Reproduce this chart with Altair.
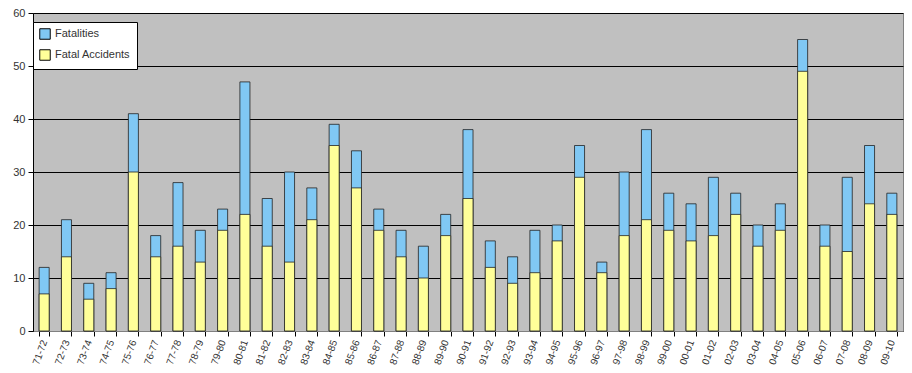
import altair as alt
import pandas as pd

seasons = ["71-72","72-73","73-74","74-75","75-76","76-77","77-78","78-79","79-80","80-81",
           "81-82","82-83","83-84","84-85","85-86","86-87","87-88","88-89","89-90","90-91",
           "91-92","92-93","93-94","94-95","95-96","96-97","97-98","98-99","99-00","00-01",
           "01-02","02-03","03-04","04-05","05-06","06-07","07-08","08-09","09-10"]
fatalities = [12,21,9,11,41,18,28,19,23,47,25,30,27,39,34,23,19,16,22,38,
              17,14,19,20,35,13,30,38,26,24,29,26,20,24,55,20,29,35,26]
fatal_accidents = [7,14,6,8,30,14,16,13,19,22,16,13,21,35,27,19,14,10,18,25,
                   12,9,11,17,29,11,18,21,19,17,18,22,16,19,49,16,15,24,22]

series_names = ["Fatalities", "Fatal Accidents"]
series_colors = ["#80C8F4", "#FFFF99"]

rows = []
for s, f, a in zip(seasons, fatalities, fatal_accidents):
    rows.append({"season": s, "series": "Fatalities", "value": f})
    rows.append({"season": s, "series": "Fatal Accidents", "value": a})
df = pd.DataFrame(rows)

x = alt.X("season:N", sort=seasons, title=None,
          scale=alt.Scale(paddingInner=0.55, paddingOuter=0.275),
          axis=alt.Axis(labelAngle=290, labelFontSize=10, labelColor="#333333",
                        labelFont="Liberation Sans", tickBand="extent", tickColor="black",
                        tickSize=5, domainColor="#808080", labelPadding=4))
y = alt.Y("value:Q", title=None, stack=None,
          scale=alt.Scale(domain=[0, 60]),
          axis=alt.Axis(values=[0,10,20,30,40,50,60], gridColor="black", gridWidth=1,
                        labelFontSize=11, labelColor="#333333", labelFont="Liberation Sans",
                        tickColor="black", tickSize=5, domainColor="black", labelPadding=3))
color = alt.Color("series:N",
                  scale=alt.Scale(domain=series_names, range=series_colors),
                  legend=alt.Legend(title=None, orient="none", legendX=0, legendY=9,
                                    fillColor="white", strokeColor="black", padding=6,
                                    symbolType="square", symbolSize=110,
                                    symbolStrokeColor="black", symbolStrokeWidth=1,
                                    labelFontSize=11, labelFont="Liberation Sans",
                                    labelColor="#333333", rowPadding=5, symbolOpacity=1))

base = alt.Chart(df)
blue = base.transform_filter(alt.datum.series == "Fatalities").mark_bar(
    stroke="#222222", strokeWidth=0.8, opacity=1).encode(x=x, y=y, color=color)
yellow = base.transform_filter(alt.datum.series == "Fatal Accidents").mark_bar(
    stroke="#222222", strokeWidth=0.8, opacity=1).encode(x=x, y=y, color=color)

chart = alt.layer(blue, yellow).properties(
    width=870, height=318,
    autosize=alt.AutoSizeParams(type="none"),
    padding={"left": 25, "top": 5, "right": 1, "bottom": 40},
    background="white",
).configure_view(fill="#C0C0C0", stroke="#808080")

chart.save("out.html", embed_options={"renderer": "svg", "actions": False})
